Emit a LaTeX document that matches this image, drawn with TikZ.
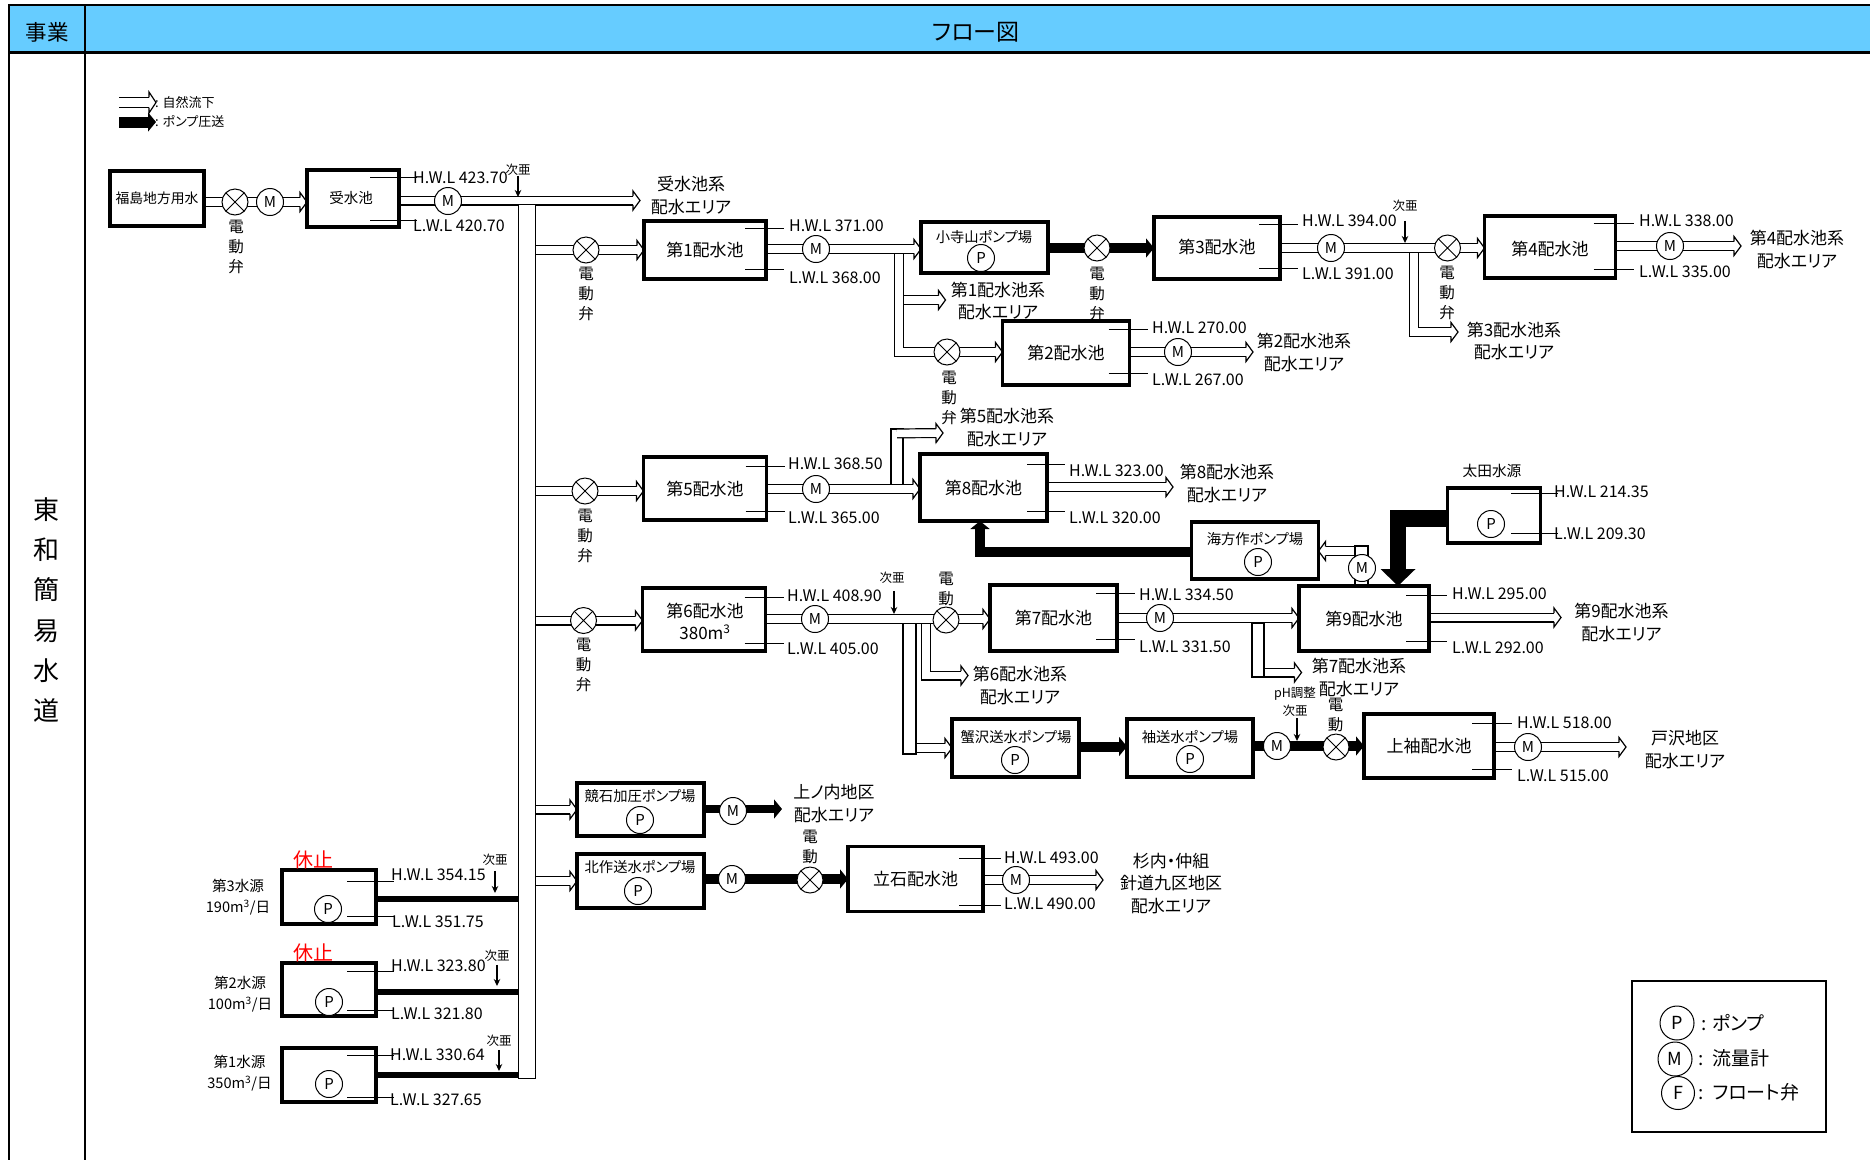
\documentclass[tikz,border=0pt]{standalone}
\usepackage{fontspec}
\setmainfont[RawFeature={+palt}]{Noto Sans CJK JP}
\usetikzlibrary{arrows.meta,backgrounds}
\pgfdeclarearrow{
  name=Hollow,
  defaults={length=7pt,width=19pt},
  setup code={
    \pgfarrowssettipend{0pt}
    \pgfarrowssetlineend{-\pgfarrowlength}
    \pgfarrowssetvisualbackend{-\pgfarrowlength}
    \pgfarrowssetbackend{-\pgfarrowlength}
    \pgfarrowssavethe\pgfarrowlength
    \pgfarrowssavethe\pgfarrowwidth
  },
  drawing code={
    \pgfmathsetlengthmacro{\shaft}{.5*\pgflinewidth-.6pt}
    \pgfsetlinewidth{1.2pt}\pgfsetdash{}{0pt}\pgfsetmiterjoin\pgfsetbuttcap
    \pgfsetfillcolor{white}
    \pgfpathmoveto{\pgfqpoint{-\pgfarrowlength}{\shaft}}
    \pgfpathlineto{\pgfqpoint{-\pgfarrowlength}{.5\pgfarrowwidth}}
    \pgfpathlineto{\pgfpointorigin}
    \pgfpathlineto{\pgfqpoint{-\pgfarrowlength}{-.5\pgfarrowwidth}}
    \pgfpathlineto{\pgfqpoint{-\pgfarrowlength}{-\shaft}}
    \pgfusepathqfillstroke
  },
  parameters={\the\pgfarrowlength,\the\pgfarrowwidth,\the\pgflinewidth}
}
\tikzset{
  tank/.style   ={rectangle, draw=black, line width=3.3pt, fill=white, align=center, outer sep=0pt,
                  font=\fontsize{17}{23}\selectfont},
  pumpst/.style ={tank, font=\fontsize{14}{18}\selectfont, anchor=north},
  meter/.style  ={circle, draw=black, line width=1pt, fill=white, inner sep=0pt, minimum size=27pt,
                  font=\fontsize{15}{15}\selectfont},
  valve/.style  ={circle, draw=black, line width=1pt, fill=white, inner sep=0pt, minimum size=26pt,
                  path picture={\draw[line width=1pt] (path picture bounding box.north west) -- (path picture bounding box.south east)
                                (path picture bounding box.north east) -- (path picture bounding box.south west);}},
  pipe/.style   ={line width=1.2pt, double=white, double distance=7.6pt, line join=miter, -{Hollow}},
  riser/.style  ={draw=black, line width=1.2pt, fill=white, inner sep=0pt},
  bpipe/.style  ={line width=10pt, line join=miter, -{Triangle[length=8pt,width=19pt]}},
  bline/.style  ={line width=6pt},
  dose/.style   ={line width=1.4pt, -{Stealth[length=7pt,width=6.5pt]}},
  tick/.style   ={line width=1pt},
  lvl/.style    ={anchor=west, inner sep=0pt, yshift=-.5pt, font=\fontsize{16}{16}\selectfont},
  area/.style   ={align=center, inner sep=0pt, yshift=-.5pt, font=\fontsize{17}{22.5}\selectfont},
  vt/.style     ={align=center, inner sep=0pt, font=\fontsize{15.5}{20}\selectfont},
  small/.style  ={align=center, inner sep=0pt, font=\fontsize{12.5}{18}\selectfont},
  stlabel/.style={inner sep=0pt, font=\fontsize{14.3}{16}\selectfont},
  src/.style    ={align=center, inner sep=0pt, font=\fontsize{14.6}{21}\selectfont},
  stop/.style   ={inner sep=0pt, text=red, font=\fontsize{20}{20}\selectfont},
  grid/.style   ={line width=2.6pt},
}
\begin{document}
\begin{tikzpicture}[x=1pt,y=-1pt]
  \useasboundingbox (0,0) rectangle (1870,1160);
  % header and left column
  \fill[fill={rgb,255:red,102;green,204;blue,255}] (9,5) rectangle (1870,52.5);
  \draw[grid] (1870,5) -- (9,5) -- (9,1160) (9,52.5) -- (1870,52.5) (85,5) -- (85,1160);
  \node[font=\fontsize{21.5}{21.5}\selectfont] (hjigyo) at (47,32) {事業};
  \node[font=\fontsize{23}{23}\selectfont] (hflow) at (976,32) {フロー図};
  \node[align=center, font=\fontsize{26}{40.2}\selectfont] (hname) at (46,610) {東\\和\\簡\\易\\水\\道};

  % kinds of flow
  \coordinate (k1a) at (119,102.5); \coordinate (k1b) at (156,102.5);
  \coordinate (k2a) at (119,122); \coordinate (k2b) at (156,122);
  \draw[pipe, double distance=9pt, -{Hollow[width=21pt]}] (k1a) -- (k1b);
  \draw[bpipe, line width=11pt] (k2a) -- (k2b);
  \node[lvl, font=\fontsize{13}{14}\selectfont] (k1t) at (155,102) {: 自然流下};
  \node[lvl, font=\fontsize{13}{14}\selectfont] (k2t) at (155,121) {: ポンプ圧送};

  % tanks
  \node[tank, minimum width=94pt, minimum height=55pt, font=\fontsize{13.8}{18}\selectfont] (fuku) at (157,198.5) {福島地方用水};
  \node[tank, minimum width=92pt, minimum height=57pt] (juti) at (353,198.5) {};
  \node[font=\fontsize{14.5}{18}\selectfont, inner sep=0pt] (jutil) at (351,198) {受水池};
  \node[tank, minimum width=122pt, minimum height=58pt] (t1) at (705,250) {第1配水池};
  \node[tank, minimum width=126pt, minimum height=62pt] (t3) at (1217,248) {};
  \node[font=\fontsize{17}{23}\selectfont, inner sep=0pt] (t3l) at (1217,246.5) {第3配水池};
  \node[tank, minimum width=131pt, minimum height=62pt] (t4) at (1550,247) {};
  \node[font=\fontsize{17}{23}\selectfont, inner sep=0pt] (t4l) at (1550,248.5) {第4配水池};
  \node[tank, minimum width=127pt, minimum height=64pt] (t2) at (1066,353) {第2配水池};
  \node[tank, minimum width=123pt, minimum height=63pt] (t5) at (705,488.5) {第5配水池};
  \node[tank, minimum width=127pt, minimum height=67pt] (t8) at (983.5,487.5) {第8配水池};
  \node[tank, minimum width=123pt, minimum height=63pt] (t6) at (704,619.5) {};
  \node[align=center, font=\fontsize{17}{22.5}\selectfont, inner sep=0pt] (t6l) at (705,621.5) {第6配水池\\380m\textsuperscript{3}};
  \node[tank, minimum width=127pt, minimum height=66pt] (t7) at (1053.5,618) {第7配水池};
  \node[tank, minimum width=130pt, minimum height=65pt] (t9) at (1364,618.5) {第9配水池};
  \node[tank, minimum width=130pt, minimum height=64pt] (tk) at (1429,746) {上袖配水池};
  \node[tank, minimum width=135pt, minimum height=65pt] (ti) at (915.5,879) {立石配水池};
  \node[tank, minimum width=92.5pt, minimum height=55pt] (ota) at (1494,515.5) {};
  \node[tank, minimum width=94pt, minimum height=54pt] (s3) at (329,897) {};
  \node[tank, minimum width=94pt, minimum height=53pt] (s2) at (329,989.5) {};
  \node[tank, minimum width=94pt, minimum height=54pt] (s1) at (329,1075) {};

  % pump stations
  \node[pumpst, minimum width=127pt, minimum height=51pt] (kod) at (984.5,222) {};
  \node[pumpst, minimum width=127pt, minimum height=57pt] (kai) at (1255,522) {};
  \node[pumpst, minimum width=127pt, minimum height=58pt] (kan) at (1015.5,719) {};
  \node[pumpst, minimum width=126pt, minimum height=58pt] (sod) at (1190,719) {};
  \node[pumpst, minimum width=127pt, minimum height=53pt] (kyo) at (640.5,783) {};
  \node[pumpst, minimum width=127pt, minimum height=54pt] (kit) at (640.5,854) {};
  \node[stlabel] (kodl) at (984,237) {小寺山ポンプ場};
  \node[stlabel] (kail) at (1255,539) {海方作ポンプ場};
  \node[stlabel] (kanl) at (1016,737) {蟹沢送水ポンプ場};
  \node[stlabel] (sodl) at (1190,737) {袖送水ポンプ場};
  \node[stlabel] (kyol) at (640,796) {競石加圧ポンプ場};
  \node[stlabel] (kitl) at (640,867) {北作送水ポンプ場};

  % pumps
  \foreach \n/\x/\y in {p1/981/258, p2/1258/562, p3/1015/760, p4/1190/759, p5/640/820, p6/638/891,
                        p7/1491/524, p8/328/909, p9/329/1002, p10/329/1084}
    \node[meter] (\n) at (\x,\y) {P};
  % flow meters
  \foreach \n/\x/\y in {m0/270/202, m1/448/201, m2/816/249, m3/1331/248, m4/1670/246, m5/1178/352,
                        m6/816/489, m7/815/619, m8/1160/618, m9/1362/568, m10/1277/746, m11/1528/747,
                        m12/733/811, m13/732/879, m14/1016/880}
    \node[meter] (\n) at (\x,\y) {M};
  % valves
  \foreach \n/\x/\y in {v0/235/202, v1/586/250, v2/1097/248, v3/1447.5/248, v4/947/352, v5/585/491,
                        v6/583.5/620.5, v7/946/620, v8/1336/747, v9/810/880}
    \node[valve] (\n) at (\x,\y) {};

  % trunk main
  \node[riser, minimum width=17pt, minimum height=874pt] (main) at (527,641.5) {};

  % free ends
  \foreach \n/\x/\y in {e0/640/200.5, e4/1741/246, e3/1458/332, e5/1253/352, e1/945.5/300, e8/1173/487,
                        e5b/943/433, e9/1561/617.5, e6a/952/748, e6/968/675.5, e7/1301.5/672.5, ek/1626/747,
                        e14/1103/880, e12/782/809, q1/899/352, q3/1414/332, q5/897/433, q6/926/675.5,
                        f9/1362/551, c8/980/552, c9/1398/518.5}
    \coordinate (\n) at (\x,\y);

  \begin{scope}[on background layer]
    % gravity flow: branches first, the mains go over their top ends
    \draw[pipe] (q1 |- e1) -- (e1);
    \draw[pipe, double distance=8pt] (q1 |- m2) -- (q1) -- (v4 -| t2.west);
    \draw[pipe] (q3 |- m3) -- (q3) -- (e3);
    \node[riser, minimum width=12pt, minimum height=56pt] (r5) at (897,457) {};
    \draw[pipe] (r5.north) ++(0,5) -- (e5b);
    \node[riser, minimum width=13pt, minimum height=131pt] (r6a) at (909.5,688.5) {};
    \draw[pipe] (r6a.east |- e6a) -- (e6a);
    \draw[pipe] (q6 |- m7) -- (q6) -- (e6);
    \node[riser, minimum width=12pt, minimum height=54pt] (r7) at (1258,650) {};
    \draw[pipe] (r7.east |- e7) -- (e7);
    \node[riser, minimum width=13pt, minimum height=39pt] (r9) at (1361.5,565.5) {};
    \draw[pipe] (r9.west |- f9) -- (f9 -| kai.east);
    \draw[pipe] (fuku.east |- m0) -- (m0 -| juti.west);
    \draw[pipe] (juti.east |- e0) -- (e0);
    \draw[pipe] (main.east |- v1) -- (v1 -| t1.west);
    \draw[pipe] (t1.east |- m2) -- (m2 -| kod.west);
    \draw[pipe] (t3.east |- m3) -- (m3 -| t4.west);
    \draw[pipe] (t4.east |- m4) -- (e4);
    \draw[pipe] (t2.east |- m5) -- (e5);
    \draw[pipe] (main.east |- v5) -- (v5 -| t5.west);
    \draw[pipe] (t5.east |- m6) -- (m6 -| t8.west);
    \draw[pipe] (t8.east |- e8) -- (e8);
    \draw[pipe] (main.east |- v6) -- (v6 -| t6.west);
    \draw[pipe] (t6.east |- m7) -- (m7 -| t7.west);
    \draw[pipe] (t7.east |- m8) -- (m8 -| t9.west);
    \draw[pipe] (t9.east |- e9) -- (e9);
    \draw[pipe] (tk.east |- ek) -- (ek);
    \draw[pipe] (ti.east |- m14) -- (e14);
    \draw[pipe] (main.east |- kyo.west) -- (kyo.west);
    \draw[pipe] (main.east |- kit.west) -- (kit.west);
    % pumped flow
    \draw[bpipe] (kod.east |- v2) -- (v2 -| t3.west);
    \draw[bpipe] (kai.west |- c8) -- (c8) -- (c8 |- t8.south);
    \draw[bpipe] (kan.east |- 0,746.5) -- (sod.west |- 0,746.5);
    \draw[bpipe] (sod.east |- m10) -- (m10 -| tk.west);
    \draw[bpipe, line width=8pt] (kyo.east |- e12) -- (e12);
    \draw[bpipe] (kit.east |- m13) -- (m13 -| ti.west);
    \draw[bline] (s3.east |- 0,899) -- (main.west |- 0,899);
    \draw[bline] (s2.east |- 0,992) -- (main.west |- 0,992);
    \draw[bline] (s1.east |- 0,1075) -- (main.west |- 0,1075);
    \draw[line width=16.5pt, line join=miter, -{Triangle[length=17pt,width=34pt]}] (ota.west |- c9) -- (c9) -- (c9 |- t9.north);
  \end{scope}

  % level marks
  \foreach \t/\a/\hy/\ly in {juti/29/7/7, t1/21/7/10, t3/21/7/11, t4/22/7/9, t2/21/8/12, t5/21/9/9, t8/20/10/10,
                             t6/21/9/8, t7/21/8/12, t9/23/9/10, tk/22/9/9, ti/24/12/6, ota/29/5/10,
                             s3/29/11/8, s2/29/8/6, s1/29/7/5}
    \draw[tick] ([xshift=-\a pt,yshift=-\hy pt]\t.north east) -- ++(\a+18,0)
                ([xshift=-\a pt,yshift=\ly pt]\t.south east) -- ++(\a+18,0);

  \foreach \n/\x/\y/\s in {l1/413/177/H.W.L 423.70, l2/413/225/L.W.L 420.70, l3/789/225/H.W.L 371.00, l4/789/277/L.W.L 368.00,
      l5/1302/220/H.W.L 394.00, l6/1302/273/L.W.L 391.00, l7/1639/220/H.W.L 338.00, l8/1639/271/L.W.L 335.00,
      l9/1152/327/H.W.L 270.00, l10/1152/379/L.W.L 267.00, l11/788/463/H.W.L 368.50, l12/788/517/L.W.L 365.00,
      l13/1069/470/H.W.L 323.00, l14/1069/517/L.W.L 320.00, l15/1554/491/H.W.L 214.35, l16/1554/533/L.W.L 209.30,
      l17/787/595/H.W.L 408.90, l18/787/648/L.W.L 405.00, l19/1139/594/H.W.L 334.50, l20/1139/646/L.W.L 331.50,
      l21/1452/593/H.W.L 295.00, l22/1452/647/L.W.L 292.00, l23/1517/722/H.W.L 518.00, l24/1517/775/L.W.L 515.00,
      l25/1004/857/H.W.L 493.00, l26/1004/903/L.W.L 490.00, l27/391/874/H.W.L 354.15, l28/392/921/L.W.L 351.75,
      l29/391/965/H.W.L 323.80, l30/391/1013/L.W.L 321.80, l31/390/1054/H.W.L 330.64, l32/390/1099/L.W.L 327.65}
    \node[lvl] (\n) at (\x,\y) {\s};

  % delivery areas
  \node[area] (a0) at (691,195) {受水池系\\配水エリア};
  \node[area] (a1) at (998,300.5) {第1配水池系\\配水エリア};
  \node[area] (a2) at (1304,352) {第2配水池系\\配水エリア};
  \node[area] (a3) at (1514,340.5) {第3配水池系\\配水エリア};
  \node[area] (a4) at (1797,249) {第4配水池系\\配水エリア};
  \node[area] (a5) at (1007,427) {第5配水池系\\配水エリア};
  \node[area] (a8) at (1227,483) {第8配水池系\\配水エリア};
  \node[area] (a9) at (1621.5,622) {第9配水池系\\配水エリア};
  \node[area] (a6) at (1020,685) {第6配水池系\\配水エリア};
  \node[area] (a7) at (1359,677) {第7配水池系\\配水エリア};
  \node[area] (ak) at (1685,749) {戸沢地区\\配水エリア};
  \node[area] (au) at (834,803) {上ノ内地区\\配水エリア};
  \node[area] (as) at (1171,883) {杉内・仲組\\針道九区地区\\配水エリア};

  % valve captions
  \node[vt] (c0) at (236,247) {電\\動\\弁};
  \node[vt] (c1) at (586,294) {電\\動\\弁};
  \node[vt] (c2) at (1097,294) {電\\動\\弁};
  \node[vt] (c3) at (1447,293) {電\\動\\弁};
  \node[vt] (c4) at (949,398) {電\\動\\弁};
  \node[vt] (c5) at (585,536) {電\\動\\弁};
  \node[vt] (c6) at (583.5,665) {電\\動\\弁};
  \node[vt] (c7) at (946,589) {電\\動};
  \node[vt] (c8t) at (1335.5,715) {電\\動};
  \node[vt] (c9t) at (810,847) {電\\動};

  % dosing points
  \node[small] (d0) at (518,170) {次亜};
  \node[small] (d1) at (1405,206) {次亜};
  \node[small] (d2) at (892,578) {次亜};
  \node[small] (d3) at (1295,702) {pH調整\\次亜};
  \node[small] (d4) at (495,860) {次亜};
  \node[small] (d5) at (497,956) {次亜};
  \node[small] (d6) at (499,1041) {次亜};
  \coordinate (g0) at (518,197); \coordinate (g1) at (1405,243); \coordinate (g2) at (894,614);
  \coordinate (g3) at (1297,741); \coordinate (g4) at (495,893); \coordinate (g5) at (497,986); \coordinate (g6) at (499,1071);
  \draw[dose] (d0.south -| g0) -- (g0);
  \draw[dose] ([yshift=-9pt]d1.south -| g1) -- (g1);
  \draw[dose] ([yshift=-7pt]d2.south -| g2) -- (g2);
  \draw[dose] ([yshift=-1pt]d3.south -| g3) -- (g3);
  \draw[dose] ([yshift=-5pt]d4.south -| g4) -- (g4);
  \draw[dose] ([yshift=-3pt]d5.south -| g5) -- (g5);
  \draw[dose] ([yshift=-3pt]d6.south -| g6) -- (g6);

  % water sources
  \node[stlabel, font=\fontsize{14.7}{16}\selectfont] (otal) at (1492,471) {太田水源};
  \node[src] (sl3) at (238,897.5) {第3水源\\190m\textsuperscript{3}/日};
  \node[src] (sl2) at (240,994) {第2水源\\100m\textsuperscript{3}/日};
  \node[src] (sl1) at (239.5,1073) {第1水源\\350m\textsuperscript{3}/日};
  \node[stop] (st3) at (313,860) {休止};
  \node[stop] (st2) at (313,953) {休止};

  % symbols
  \node[draw=black, line width=2.4pt, minimum width=194pt, minimum height=151pt, inner sep=0pt] (symb) at (1729,1056.5) {};
  \node[meter, minimum size=34pt, font=\fontsize{18}{18}\selectfont] (sp) at (1677,1023) {P};
  \node[meter, minimum size=34pt, font=\fontsize{18}{18}\selectfont] (sm) at (1675,1059) {M};
  \node[meter, minimum size=33pt, font=\fontsize{18}{18}\selectfont] (sf) at (1678,1093) {F};
  \node[lvl, font=\fontsize{19}{19}\selectfont] (spt) at (1701,1022) {:\hspace{6pt}ポンプ};
  \node[lvl, font=\fontsize{19}{19}\selectfont] (smt) at (1698,1058) {:\hspace{9pt}流量計};
  \node[lvl, font=\fontsize{19}{19}\selectfont] (sft) at (1698,1092) {:\hspace{9pt}フロート弁};
\end{tikzpicture}
\end{document}
